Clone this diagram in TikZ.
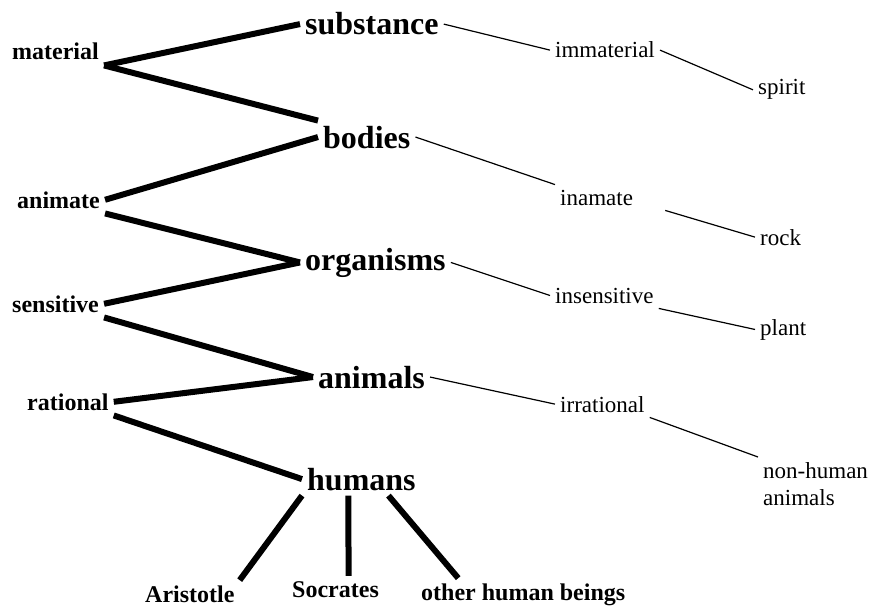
\documentclass[tikz,border=0pt]{standalone}
\usepackage{fontspec}
\setmainfont{Liberation Serif}
\usepackage{tikz}
\tikzset{
  genus/.style={font=\fontsize{32}{32}\selectfont\bfseries, inner sep=5pt, anchor=base west},
  differentia/.style={font=\fontsize{24}{24}\selectfont\bfseries, inner sep=5pt, anchor=base west},
  contrary/.style={font=\fontsize{23}{27}\selectfont, inner sep=5pt, anchor=base west},
  spine/.style={line width=6pt},
  twig/.style={line width=1.2pt}
}
\newcommand{\genus}[4]{\node[genus] (#1) at ( #2 , #3 ) {#4};}
\newcommand{\diff}[4]{\node[differentia] (#1) at ( #2 , #3 ) {#4};}
\newcommand{\contr}[4]{\node[contrary] (#1) at ( #2 , #3 ) {#4};}
\newcommand{\spine}[2]{\draw[spine] (#1) -- (#2);}
\newcommand{\twig}[2]{\draw[twig] (#1) -- (#2);}

\begin{document}
\begin{tikzpicture}[x=1pt,y=-1pt]
\useasboundingbox (0,0) rectangle (874,607);
% the chain of genera
\genus{substance}{300}{35}{substance}
\genus{bodies}{318}{148}{bodies}
\genus{organisms}{300}{270}{organisms}
\genus{animals}{313}{388}{animals}
\genus{humans}{302}{490}{humans}
% differentiae on the left
\diff{material}{7}{60}{material}
\diff{animate}{12}{208}{animate}
\diff{sensitive}{7}{312}{sensitive}
\diff{rational}{22}{410}{rational}
% contraries on the right
\contr{immaterial}{550}{58}{immaterial}
\contr{inamate}{555}{205}{inamate}
\contr{insensitive}{550}{303}{insensitive}
\contr{irrational}{555}{412}{irrational}
% what falls under them
\contr{spirit}{753}{95}{spirit}
\contr{rock}{755}{245}{rock}
\contr{plant}{755}{335}{plant}
\node[contrary, align=left, anchor=north west] (nonhuman) at (758,457) {non-human\\animals};
% individuals
\diff{aristotle}{140}{602}{Aristotle}
\diff{socrates}{287}{597}{Socrates}
\diff{others}{416}{600}{other human beings}
% thick zig-zag
\spine{material.south east}{substance.west}
\spine{material.south east}{bodies.north west}
\spine{animate.east}{bodies.west}
\spine{animate.south east}{organisms.west}
\spine{sensitive.east}{organisms.west}
\spine{sensitive.south east}{animals.west}
\spine{rational.east}{animals.west}
\spine{rational.south east}{humans.west}
% down to the individuals
\spine{humans.south west}{aristotle.north east}
\spine{[xshift=-13pt]humans.south}{[xshift=13pt]socrates.north}
\spine{[xshift=27pt]humans.south}{[xshift=-65pt]others.north}
% thin lines on the right
\twig{substance.east}{immaterial.west}
\twig{immaterial.east}{spirit.west}
\twig{bodies.east}{inamate.north west}
\twig{[xshift=27pt]inamate.south east}{rock.west}
\twig{organisms.east}{insensitive.west}
\twig{insensitive.south east}{plant.west}
\twig{animals.east}{irrational.west}
\twig{irrational.south east}{nonhuman.north west}
\end{tikzpicture}
\end{document}
